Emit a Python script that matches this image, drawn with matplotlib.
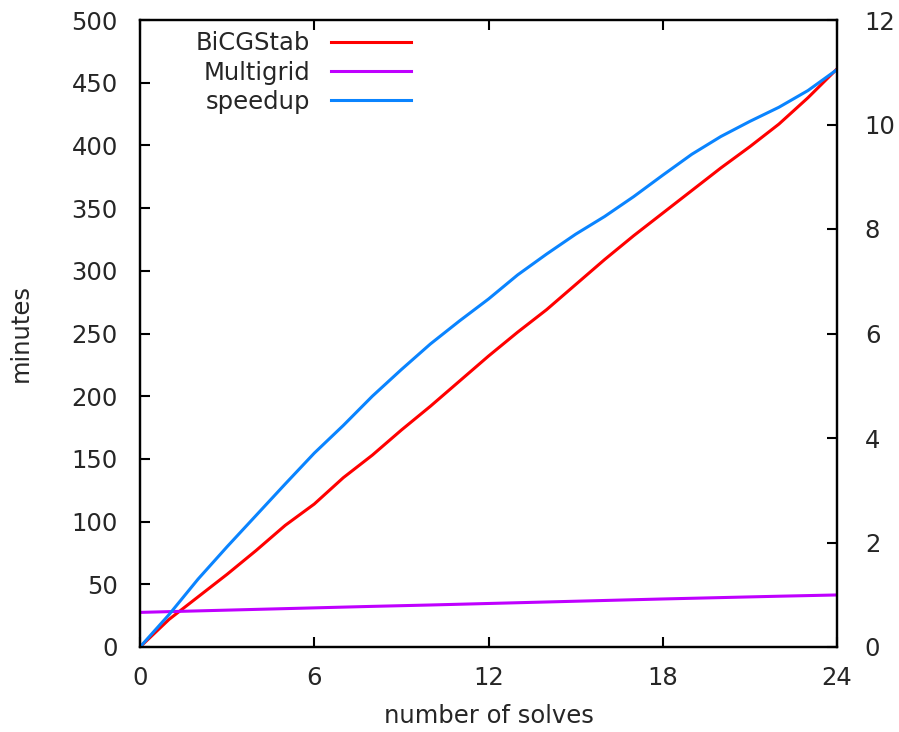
import numpy as np
import matplotlib
matplotlib.use("Agg")
import matplotlib.pyplot as plt

# values
solves = np.arange(0, 25)
bicgstab = [0, 22, 40, 58, 77, 97, 114, 135, 153, 173, 192, 212, 232,
            251, 269, 289, 309, 328, 346, 364, 382, 399, 417, 438, 461]
mg_solves = [0, 2, 4, 6, 8, 10, 12, 14, 16, 18, 20, 22, 24]
multigrid = [27.6, 28.8, 30.0, 31.2, 32.4, 33.5, 34.7, 35.9, 37.1, 38.3, 39.4, 40.5, 41.5]
speedup = [0, 0.62, 1.30, 1.92, 2.52, 3.12, 3.71, 4.24, 4.80, 5.31, 5.80, 6.24, 6.66,
           7.12, 7.52, 7.90, 8.24, 8.62, 9.03, 9.43, 9.77, 10.06, 10.33, 10.65, 11.05]

xticks = [0, 6, 12, 18, 24]
yticks_left = np.arange(0, 501, 50)
yticks_right = np.arange(0, 13, 2)

plt.rcParams['font.family'] = ['DejaVu Sans']
fs = 17.5
txt = '#262626'

fig = plt.figure(figsize=(8.99, 7.32), dpi=100)
ax = fig.add_axes([140/899, 1 - 647/732, 697/899, 627/732])
ax2 = ax.twinx()

l1, = ax.plot(solves, bicgstab, color='#ff0000', lw=2.2, label='BiCGStab')
l2, = ax.plot(mg_solves, multigrid, color='#bf00ff', lw=2.2, label='Multigrid')
l3, = ax2.plot(solves, speedup, color='#0a84ff', lw=2.2, label='speedup')

ax.set_xlim(0, 24)
ax.set_ylim(0, 500)
ax2.set_ylim(0, 12)
ax.set_xticks(xticks)
ax.set_yticks(yticks_left)
ax2.set_yticks(yticks_right)

ax.tick_params(axis='both', direction='in', length=7, width=1.5, labelsize=fs,
               labelcolor=txt, top=True)
ax.tick_params(axis='y', pad=16)
ax.tick_params(axis='x', pad=14)
ax2.tick_params(axis='y', direction='in', length=7, width=1.5, labelsize=fs,
                labelcolor=txt, pad=20)
for a in (ax, ax2):
    for s in a.spines.values():
        s.set_linewidth(1.6)

ax.set_xlabel('number of solves', fontsize=fs, color=txt, labelpad=10)
ax.set_ylabel('minutes', fontsize=fs, color=txt, labelpad=28)

ax.legend([l1, l2, l3], ['BiCGStab', 'Multigrid', 'speedup'], loc='upper right',
          bbox_to_anchor=(0.389, 0.982), frameon=False, markerfirst=False,
          fontsize=fs, handlelength=3.3, handletextpad=0.85, labelspacing=0.22,
          borderpad=0, borderaxespad=0, labelcolor=txt)

fig.savefig('out.png', dpi=100)
